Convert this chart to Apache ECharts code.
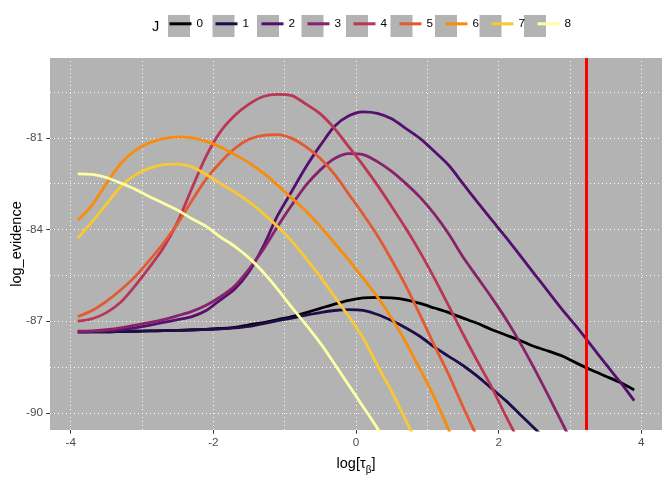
<!DOCTYPE html>
<html>
<head>
<meta charset="utf-8">
<script src="https://cdn.jsdelivr.net/npm/echarts@6/dist/echarts.min.js"></script>
<style>
  html, body { margin: 0; padding: 0; background: #fff; }
  #chart { width: 672px; height: 480px; }
</style>
</head>
<body>
<div id="chart"></div>
<script>
// log(tau_beta) grid
const tau = [-3.9, -3.7, -3.5, -3.3, -3.1, -2.9, -2.7, -2.5, -2.3, -2.1,
             -1.9, -1.7, -1.5, -1.3, -1.1, -0.9, -0.7, -0.5, -0.3, -0.1,
              0.1,  0.3,  0.5,  0.7,  0.9,  1.1,  1.3,  1.5,  1.7,  1.9,
              2.1,  2.3,  2.5,  2.7,  2.9,  3.1,  3.3,  3.5,  3.7,  3.9];

// log_evidence per J (curves stop once they are well below the panel)
const ev0 = [-87.35, -87.35, -87.35, -87.34, -87.33, -87.32, -87.31, -87.30, -87.28, -87.27,
             -87.24, -87.20, -87.12, -87.05, -86.95, -86.85, -86.72, -86.58, -86.44, -86.32,
             -86.24, -86.22, -86.24, -86.30, -86.42, -86.57, -86.72, -86.90, -87.07, -87.27,
             -87.45, -87.63, -87.83, -87.98, -88.15, -88.38, -88.60, -88.80, -89.00, -89.25];
const ev1 = [-87.35, -87.35, -87.35, -87.34, -87.33, -87.32, -87.31, -87.30, -87.29, -87.27,
             -87.25, -87.22, -87.17, -87.08, -86.98, -86.90, -86.80, -86.72, -86.65, -86.62,
             -86.65, -86.78, -86.98, -87.22, -87.50, -87.85, -88.15, -88.45, -88.80, -89.20,
             -89.60, -90.05, -90.50, -90.95];
const ev2 = [-87.35, -87.34, -87.32, -87.28, -87.22, -87.14, -87.04, -86.95, -86.85, -86.65,
             -86.30, -85.95, -85.38, -84.55, -83.55, -82.75, -81.95, -81.25, -80.62, -80.28,
             -80.15, -80.20, -80.38, -80.70, -81.03, -81.45, -81.90, -82.50, -83.10, -83.68,
             -84.25, -84.85, -85.45, -86.05, -86.65, -87.20, -87.80, -88.40, -88.98, -89.60];
const ev3 = [-87.33, -87.32, -87.28, -87.22, -87.13, -87.05, -86.95, -86.82, -86.68, -86.48,
             -86.20, -85.85, -85.30, -84.65, -83.90, -83.20, -82.55, -82.05, -81.68, -81.52,
             -81.55, -81.78, -82.10, -82.50, -82.95, -83.50, -84.15, -84.90, -85.56, -86.22,
             -86.92, -87.70, -88.55, -89.45, -90.38, -91.30];
const ev4 = [-87.00, -86.92, -86.72, -86.38, -85.85, -85.25, -84.60, -83.75, -82.65, -81.60,
             -80.80, -80.27, -79.90, -79.65, -79.58, -79.62, -79.90, -80.22, -80.70, -81.30,
             -81.90, -82.55, -83.25, -83.97, -84.75, -85.60, -86.50, -87.42, -88.30, -89.15,
             -90.10, -91.00];
const ev5 = [-86.85, -86.65, -86.35, -85.98, -85.55, -85.02, -84.45, -83.80, -83.05, -82.35,
             -81.80, -81.35, -81.05, -80.92, -80.90, -81.02, -81.30, -81.68, -82.20, -82.85,
             -83.50, -84.20, -85.00, -85.85, -86.80, -87.80, -88.75, -89.80, -90.80];
const ev6 = [-83.70, -83.20, -82.50, -81.85, -81.42, -81.17, -81.03, -80.97, -81.00, -81.12,
             -81.30, -81.55, -81.82, -82.15, -82.55, -82.98, -83.40, -83.90, -84.45, -85.00,
             -85.60, -86.20, -86.90, -87.70, -88.58, -89.50, -90.55, -91.60];
const ev7 = [-84.28, -83.75, -83.18, -82.60, -82.22, -82.00, -81.88, -81.86, -81.95, -82.20,
             -82.50, -82.78, -83.10, -83.48, -83.90, -84.38, -84.95, -85.55, -86.20, -86.85,
             -87.55, -88.45, -89.30, -90.25, -91.20];
const ev8 = [-82.18, -82.20, -82.30, -82.48, -82.68, -82.92, -83.14, -83.37, -83.65, -83.90,
             -84.25, -84.55, -84.93, -85.40, -85.95, -86.55, -87.12, -87.72, -88.40, -89.10,
             -89.80, -90.50, -91.30];

const levels = ['0', '1', '2', '3', '4', '5', '6', '7', '8'];
const evidence = [ev0, ev1, ev2, ev3, ev4, ev5, ev6, ev7, ev8];
const colors = ['#000004', '#1F0C48', '#550F6D', '#88226A', '#BA3655',
                '#E35932', '#F98C0A', '#F9C932', '#FCFFA4'];

// axis breaks and the vertical reference line
const xBreaks = [-4, -2, 0, 2, 4];
const xMinor = [-3, -1, 1, 3];
const yBreaks = [-90, -87, -84, -81];
const yMinor = [-88.5, -85.5, -82.5, -79.5];
const cutoff = 3.235;

const font = '"Liberation Sans", Arial, sans-serif';
const panelGrey = '#B3B3B3';

const chart = echarts.init(document.getElementById('chart'));

const curves = levels.map((lv, k) => ({
  name: lv,
  type: 'line',
  symbol: 'none',
  smooth: 0.3,
  z: 2,
  lineStyle: { color: colors[k], width: 2.8 },
  itemStyle: { color: colors[k] },
  data: evidence[k].map((v, i) => [tau[i], v])
}));

const gridLines = {
  type: 'line',
  data: [],
  silent: true,
  markLine: {
    z: 1,
    silent: true,
    symbol: 'none',
    animation: false,
    label: { show: false },
    lineStyle: { color: '#FFFFFF', width: 1, type: [1, 3] },
    data: [...xBreaks, ...xMinor].map(v => ({ xAxis: v }))
      .concat([...yBreaks, ...yMinor].map(v => ({ yAxis: v })))
  }
};

const refLine = {
  type: 'line',
  data: [],
  silent: true,
  itemStyle: { color: '#FF0000' },
  markLine: {
    z: 10,
    silent: true,
    symbol: 'none',
    animation: false,
    label: { show: false },
    lineStyle: { color: '#FF0000', width: 3, type: 'solid', opacity: 1 },
    emphasis: { disabled: true },
    data: [{ xAxis: cutoff }]
  }
};

const legendBase = {
  left: 168,
  top: 15,
  padding: 0,
  itemWidth: 22,
  itemHeight: 22,
  itemGap: 11,
  data: levels,
  selectedMode: false
};

chart.setOption({
  animation: false,
  title: {
    text: 'J',
    left: 152,
    top: 19,
    padding: 0,
    textStyle: { fontSize: 14.5, fontWeight: 'normal', color: '#000', fontFamily: font }
  },
  legend: [
    Object.assign({}, legendBase, {
      z: 4,
      icon: 'rect',
      itemStyle: { color: panelGrey, borderWidth: 0 },
      textStyle: { fontSize: 11.7, fontFamily: font, color: 'rgba(0,0,0,0)' }
    }),
    Object.assign({}, legendBase, {
      z: 5,
      itemStyle: { opacity: 0 },
      lineStyle: { width: 3 },
      textStyle: { fontSize: 11.7, fontFamily: font, color: '#000' }
    })
  ],
  grid: {
    left: 50, right: 10, top: 58, bottom: 50,
    outerBoundsMode: 'none',
    containLabel: false,
    show: true, backgroundColor: panelGrey, borderWidth: 0
  },
  xAxis: {
    type: 'value',
    min: -4.29,
    max: 4.29,
    axisLine: { show: false, onZero: false },
    splitLine: { show: false },
    axisTick: { show: true, customValues: xBreaks, length: 3.7, lineStyle: { color: '#333333', width: 1 } },
    axisLabel: { customValues: xBreaks, margin: 7, color: '#4D4D4D', fontSize: 11.7, fontFamily: font },
    name: 'log[τ{s|β}]',
    nameLocation: 'middle',
    nameGap: 23,
    nameTextStyle: {
      fontSize: 14.5, color: '#000', fontFamily: font,
      rich: { s: { fontSize: 10, fontFamily: font, color: '#000', verticalAlign: 'bottom', lineHeight: 22 } }
    }
  },
  yAxis: {
    type: 'value',
    min: -90.56,
    max: -78.39,
    axisLine: { show: false, onZero: false },
    splitLine: { show: false },
    axisTick: { show: true, customValues: yBreaks, length: 3.7, lineStyle: { color: '#333333', width: 1 } },
    axisLabel: { customValues: yBreaks, margin: 7, color: '#4D4D4D', fontSize: 11.7, fontFamily: font },
    name: 'log_evidence',
    nameLocation: 'middle',
    nameMoveOverlap: false,
    nameGap: 26,
    nameTextStyle: { fontSize: 14.5, color: '#000', fontFamily: font }
  },
  series: [gridLines, ...curves, refLine]
});
</script>
</body>
</html>
